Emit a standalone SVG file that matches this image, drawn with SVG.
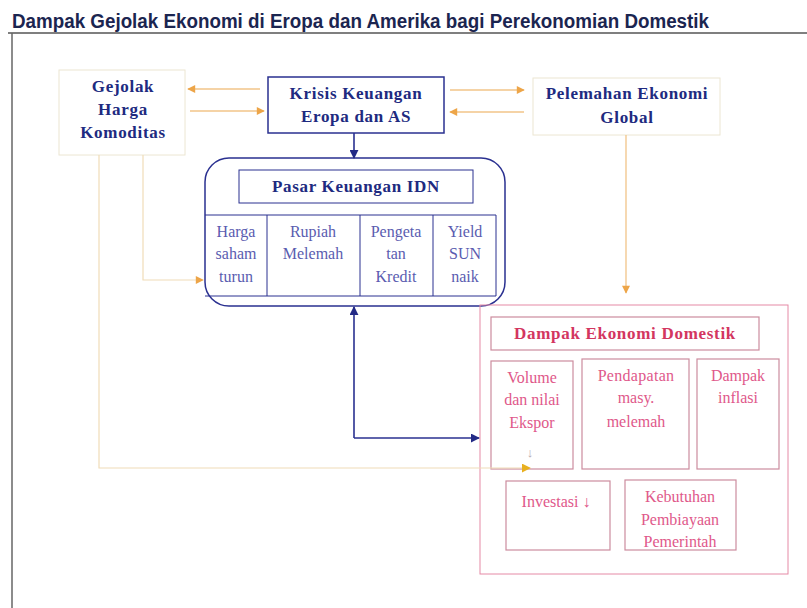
<svg xmlns="http://www.w3.org/2000/svg" width="807" height="608" viewBox="0 0 807 608">
<defs>
<style>
.ttl{font-family:"Liberation Sans",Arial,sans-serif;font-weight:bold;fill:#1b2550}
.bt{font-family:"Liberation Serif","Times New Roman",serif;font-weight:bold;font-size:17px;letter-spacing:0.7px;fill:#202a80;text-anchor:middle}
.ct{font-family:"Liberation Serif","Times New Roman",serif;font-size:16px;fill:#5a5cb0;text-anchor:middle}
.pt{font-family:"Liberation Serif","Times New Roman",serif;font-weight:bold;font-size:17px;letter-spacing:0.7px;fill:#d3365f;text-anchor:middle}
.pc{font-family:"Liberation Serif","Times New Roman",serif;font-size:16px;fill:#e0588a;text-anchor:middle}
.faint{fill:#ffffff;stroke:#ece6d2;stroke-width:1}
.blue{fill:#ffffff;stroke:#2a3090;stroke-width:1.5}
.pink{fill:none;stroke:#e58aa6;stroke-width:1}
.pinkin{fill:#ffffff;stroke:#cc8c9e;stroke-width:1.2}
.ora{fill:none;stroke:#f2c488;stroke-width:1.3}
.oral{fill:none;stroke:#f0dcb8;stroke-width:1.2}
.bl{fill:none;stroke:#2a3090;stroke-width:1.6}
</style>
<marker id="ah" viewBox="0 0 10 10" refX="9" refY="5" markerWidth="9" markerHeight="8" markerUnits="userSpaceOnUse" orient="auto">
<path d="M0,0 L10,5 L0,10 z" fill="#eda548"/>
</marker>
<marker id="ay" viewBox="0 0 10 10" refX="9" refY="5" markerWidth="9" markerHeight="9" markerUnits="userSpaceOnUse" orient="auto">
<path d="M0,0 L10,5 L0,10 z" fill="#e8b020"/>
</marker>
<marker id="ab" viewBox="0 0 10 10" refX="9" refY="5" markerWidth="9" markerHeight="9" markerUnits="userSpaceOnUse" orient="auto">
<path d="M0,0 L10,5 L0,10 z" fill="#232a86"/>
</marker>
</defs>
<rect x="0" y="0" width="807" height="608" fill="#ffffff"/>
<g id="title">
<text class="ttl" x="12" y="28" font-size="20" textLength="697" lengthAdjust="spacingAndGlyphs">Dampak Gejolak Ekonomi di Eropa dan Amerika bagi Perekonomian Domestik</text>
<line x1="8" y1="33" x2="807" y2="33" stroke="#555555" stroke-width="1.5"/>
<line x1="12" y1="33" x2="12" y2="608" stroke="#666666" stroke-width="1.5"/>
</g>
<g id="gejolak">
<rect class="faint" x="59" y="70" width="126" height="85"/>
<text class="bt" x="123" y="92">Gejolak</text>
<text class="bt" x="123" y="115">Harga</text>
<text class="bt" x="123" y="138">Komoditas</text>
</g>
<g id="krisis">
<rect class="blue" x="268" y="77" width="176" height="56"/>
<text class="bt" x="356" y="99">Krisis Keuangan</text>
<text class="bt" x="356" y="122">Eropa dan AS</text>
</g>
<g id="pelemahan">
<rect class="faint" x="533" y="78" width="187" height="57"/>
<text class="bt" x="627" y="99">Pelemahan Ekonomi</text>
<text class="bt" x="627" y="123">Global</text>
</g>
<g id="pasar">
<rect class="blue" x="205" y="158" width="300" height="148" rx="24" ry="24"/>
<rect fill="#ffffff" stroke="#2a3090" stroke-width="1" x="239" y="170" width="234" height="33"/>
<text class="bt" x="356" y="192">Pasar Keuangan IDN</text>
<path d="M205,215 H496 V296 H205 M267,215 V296 M360,215 V296 M433,215 V296" fill="none" stroke="#2a3090" stroke-width="1"/>
<text class="ct" x="236" y="237">Harga</text>
<text class="ct" x="236" y="259">saham</text>
<text class="ct" x="236" y="282">turun</text>
<text class="ct" x="313" y="237">Rupiah</text>
<text class="ct" x="313" y="259">Melemah</text>
<text class="ct" x="396" y="237">Pengeta</text>
<text class="ct" x="396" y="259">tan</text>
<text class="ct" x="396" y="282">Kredit</text>
<text class="ct" x="465" y="237">Yield</text>
<text class="ct" x="465" y="259">SUN</text>
<text class="ct" x="465" y="282">naik</text>
</g>
<g id="dampak">
<rect class="pink" x="480" y="305" width="308" height="269"/>
<rect class="pinkin" x="491" y="317" width="268" height="33"/>
<text class="pt" x="625" y="339">Dampak Ekonomi Domestik</text>
</g>
<g id="volume">
<rect class="pinkin" x="491" y="361" width="82" height="108"/>
<text class="pc" x="532" y="383">Volume</text>
<text class="pc" x="532" y="405">dan nilai</text>
<text class="pc" x="532" y="428">Ekspor</text>
<text class="pc" x="530" y="457" style="font-size:13px;fill:#b8a8b0">↓</text>
</g>
<g id="pendapatan">
<rect class="pinkin" x="582" y="359" width="107" height="110"/>
<text class="pc" x="636" y="381" letter-spacing="0.3">Pendapatan</text>
<text class="pc" x="636" y="403">masy.</text>
<text class="pc" x="636" y="427">melemah</text>
</g>
<g id="inflasi">
<rect class="pinkin" x="697" y="359" width="82" height="110"/>
<text class="pc" x="738" y="381">Dampak</text>
<text class="pc" x="738" y="403">inflasi</text>
</g>
<g id="investasi">
<rect class="pinkin" x="506" y="481" width="104" height="69"/>
<text class="pc" x="556" y="507">Investasi ↓</text>
</g>
<g id="kebutuhan">
<rect class="pinkin" x="625" y="480" width="111" height="70"/>
<text class="pc" x="680" y="502">Kebutuhan</text>
<text class="pc" x="680" y="525">Pembiayaan</text>
<text class="pc" x="680" y="547">Pemerintah</text>
</g>
<g id="connectors">
<line class="ora" x1="260" y1="89" x2="188" y2="89" marker-end="url(#ah)"/>
<line class="ora" x1="190" y1="111" x2="264" y2="111" marker-end="url(#ah)"/>
<line class="ora" x1="450" y1="90" x2="524" y2="90" marker-end="url(#ah)"/>
<line class="ora" x1="524" y1="112" x2="450" y2="112" marker-end="url(#ah)"/>
<line class="bl" x1="354" y1="133" x2="354" y2="158" marker-end="url(#ab)"/>
<polyline class="oral" points="143,155 143,280 203,280" marker-end="url(#ah)"/>
<polyline class="oral" points="99,155 99,468 530,468" marker-end="url(#ay)"/>
<line class="ora" x1="626" y1="135" x2="626" y2="293" marker-end="url(#ah)"/>
<polyline class="bl" points="354,438 354,307" marker-end="url(#ab)"/>
<polyline class="bl" points="354,438 479,438" marker-end="url(#ab)"/>
</g>
</svg>
